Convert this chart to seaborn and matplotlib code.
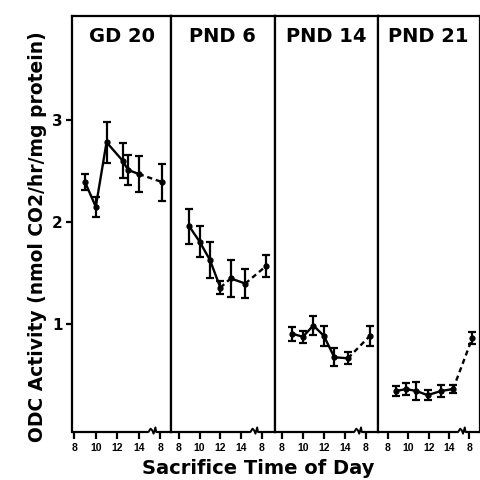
import matplotlib
matplotlib.use('Agg')
import matplotlib.pyplot as plt
import pandas as pd
import seaborn as sns

# panel names and data (x = clock hour, 16 = 8 h next day)
panels = ['GD 20', 'PND 6', 'PND 14', 'PND 21']

gd20_hours = [9, 10, 11, 12.5, 13, 14, 16.2]
gd20_odc = [2.39, 2.15, 2.78, 2.60, 2.51, 2.47, 2.39]
gd20_sem = [0.08, 0.10, 0.20, 0.17, 0.15, 0.18, 0.18]

pnd6_hours = [9, 10, 11, 12, 13, 14.4, 16.4]
pnd6_odc = [1.96, 1.81, 1.63, 1.36, 1.45, 1.40, 1.57]
pnd6_sem = [0.17, 0.15, 0.18, 0.06, 0.18, 0.14, 0.11]

pnd14_hours = [9, 10, 11, 12, 13, 14.3, 16.4]
pnd14_odc = [0.91, 0.88, 0.99, 0.89, 0.68, 0.67, 0.89]
pnd14_sem = [0.07, 0.06, 0.09, 0.10, 0.09, 0.06, 0.10]

pnd21_hours = [8.8, 9.8, 10.8, 11.9, 13.2, 14.4, 16.3]
pnd21_odc = [0.35, 0.37, 0.35, 0.31, 0.35, 0.37, 0.87]
pnd21_sem = [0.05, 0.06, 0.09, 0.05, 0.06, 0.04, 0.06]

# which segments (index i -> i+1) are dashed
dashed_segments = {
    'GD 20': [5],
    'PND 6': [3, 5],
    'PND 14': [5],
    'PND 21': [5],
}

tick_pos = [8, 10, 12, 14, 16]
tick_labels = ['8', '10', '12', '14', '8']
y_ticks = [1, 2, 3]

series = {
    'GD 20': (gd20_hours, gd20_odc, gd20_sem),
    'PND 6': (pnd6_hours, pnd6_odc, pnd6_sem),
    'PND 14': (pnd14_hours, pnd14_odc, pnd14_sem),
    'PND 21': (pnd21_hours, pnd21_odc, pnd21_sem),
}

sns.set_style('ticks', {'axes.edgecolor': 'black', 'text.color': 'black',
                        'xtick.color': 'black', 'ytick.color': 'black',
                        'axes.labelcolor': 'black'})
plt.rcParams['font.family'] = ['Liberation Sans', 'DejaVu Sans']
plt.rcParams['font.weight'] = 'bold'
bold_font = ['DejaVu Sans']

fig, axes = plt.subplots(1, 4, figsize=(4.81, 4.80), dpi=100, sharey=True,
                         gridspec_kw={'width_ratios': [99, 104, 103, 102]})
fig.subplots_adjust(left=0.15, right=0.997, top=0.966, bottom=0.1, wspace=0)

xlims = [(7.8, 17.0), (7.25, 17.25), (7.33, 17.14), (7.0, 17.0)]

for ax, name, xl in zip(axes, panels, xlims):
    hrs, odc, sem = series[name]
    df = pd.DataFrame({'hour': hrs, 'odc': odc})

    for i in range(len(df) - 1):
        seg = df.iloc[i:i + 2]
        ls = (0, (2.2, 1.6)) if i in dashed_segments[name] else '-'
        sns.lineplot(data=seg, x='hour', y='odc', ax=ax, color='black',
                     lw=1.7, linestyle=ls, sort=False, errorbar=None)

    ax.errorbar(hrs, odc, yerr=sem, fmt='o', ms=3.5, color='black',
                ecolor='black', elinewidth=1.6, capsize=3.2, capthick=1.6)

    ax.set_xlim(*xl)
    ax.set_ylim(-0.05, 4.01)
    ax.set_xticks(tick_pos)
    ax.set_xticklabels(tick_labels, fontsize=7.5, fontweight='bold')
    ax.tick_params(axis='x', direction='out', length=5, width=1.6, pad=3,
                   colors='black')
    ax.set_xlabel('')
    ax.set_ylabel('')

    for side in ['left', 'right', 'top']:
        ax.spines[side].set_linewidth(1.6)
        ax.spines[side].set_color('black')
        ax.spines[side].set_visible(True)
    ax.spines['bottom'].set_visible(False)

    # bottom axis line with a break between 14 and 8
    tr = ax.get_xaxis_transform()
    ax.plot([xl[0], 14.9], [0, 0], color='black', lw=1.6, transform=tr,
            clip_on=False, solid_capstyle='butt')
    ax.plot([14.9, 15.1, 15.25, 15.38, 15.55, 15.62],
            [0, 0.008, 0.004, -0.004, 0.011, 0.0],
            color='black', lw=1.4, transform=tr, clip_on=False)
    ax.plot([15.62, xl[1]], [0, 0], color='black', lw=1.6, transform=tr,
            clip_on=False, solid_capstyle='butt')

    ax.text(0.5, 0.952, name, transform=ax.transAxes, ha='center',
            va='center', fontsize=14, fontweight='bold', family=bold_font,
            color='black')

axes[0].set_yticks(y_ticks)
axes[0].set_yticklabels([str(v) for v in y_ticks], fontsize=11,
                        fontweight='bold', family=bold_font)
axes[0].tick_params(axis='y', direction='out', length=4, width=1.6, pad=3,
                    colors='black')
for ax in axes[1:]:
    ax.tick_params(axis='y', left=False)

fig.text(0.077, 0.508, 'ODC Activity (nmol CO2/hr/mg protein)', rotation=90,
         ha='center', va='center', fontsize=13.5, fontweight='bold',
         family=bold_font, color='black')
fig.text(0.537, 0.023, 'Sacrifice Time of Day', ha='center', va='center',
         fontsize=14, fontweight='bold', family=bold_font, color='black')

fig.savefig('out.png', dpi=100, facecolor='white')
